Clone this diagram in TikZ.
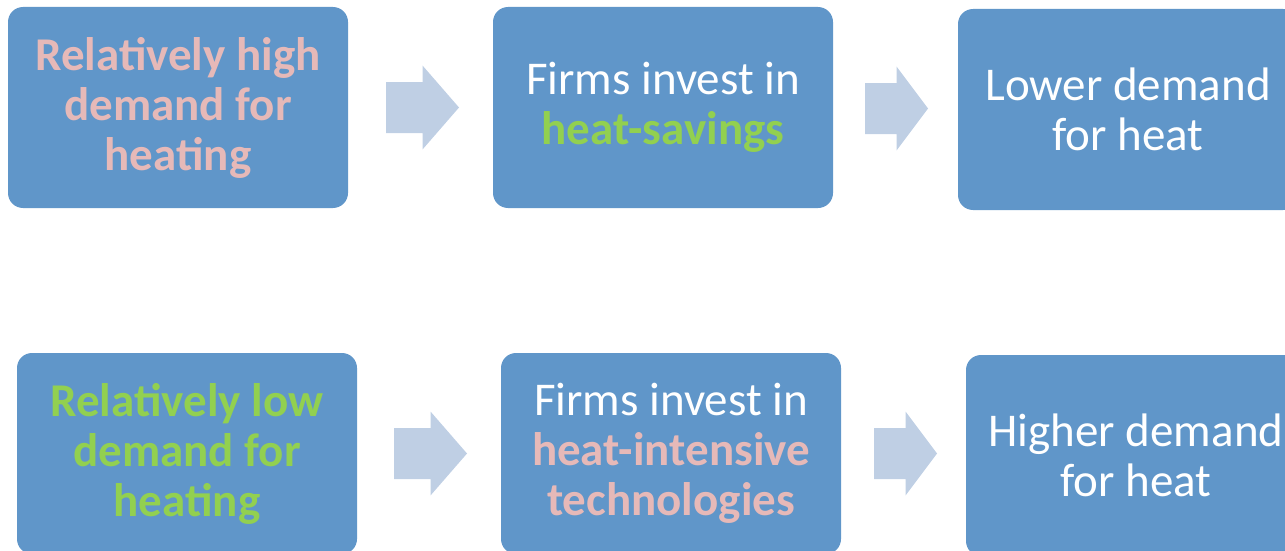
\documentclass[tikz,border=0pt]{standalone}
\usepackage{fontspec}
\setmainfont{Carlito}
\usetikzlibrary{positioning}
\definecolor{boxblue}{HTML}{6096C9}
\definecolor{arrowblue}{HTML}{BFCFE4}
\definecolor{pinktext}{HTML}{E6B9B8}
\definecolor{greentext}{HTML}{92D050}
\newcommand{\pinkbold}[1]{\textbf{\color{pinktext}#1}}
\newcommand{\greenbold}[1]{\textbf{\color{greentext}#1}}
% block arrow: tail x, tip x, middle y
\newcommand{\blockarrow}[3]{%
  \fill[arrowfill] (#1,#3-25.5) -- ({(#1+#2)/2},#3-25.5) -- ({(#1+#2)/2},#3-42)
    -- (#2,#3) -- ({(#1+#2)/2},#3+42) -- ({(#1+#2)/2},#3+25.5) -- (#1,#3+25.5) -- cycle;}
\begin{document}
\begin{tikzpicture}
[x=1pt,y=-1pt,
flowbox/.style={shape=rectangle,rounded corners=15pt,fill=boxblue,
  minimum width=340pt,minimum height=201pt,inner sep=0pt,align=center,
  text=white,font=\fontsize{47}{50}\selectfont},
arrowfill/.style={fill=arrowblue}]

\useasboundingbox (0,0) rectangle (1285,551);

% first chain
\node[flowbox] (high) at (178,107.5) {\pinkbold{Relatively high}\\\pinkbold{demand for}\\\pinkbold{heating}};
\node[flowbox] (invsave) at (663,107.5) {Firms invest in\\\greenbold{heat-savings}};
\node[flowbox] (lower) at (1128,109.5) {Lower demand\\for heat};

% second chain
\node[flowbox] (low) at (187,453.5) {\greenbold{Relatively low}\\\greenbold{demand for}\\\greenbold{heating}};
\node[flowbox] (invint) at (671,453.5) {Firms invest in\\\pinkbold{heat-intensive}\\\pinkbold{technologies}};
\node[flowbox] (higher) at (1136,455.5) {Higher demand\\for heat};

\blockarrow{386}{459}{107.5}
\blockarrow{865}{928}{108.5}
\blockarrow{394}{467}{453.5}
\blockarrow{874}{937}{453.5}
\end{tikzpicture}
\end{document}
